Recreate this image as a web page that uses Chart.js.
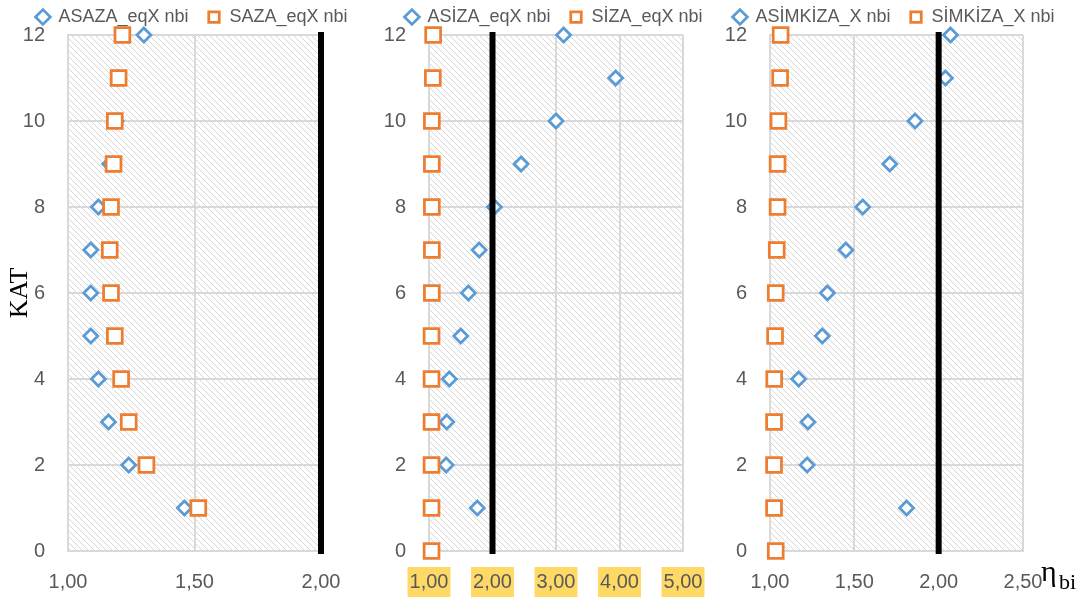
<!DOCTYPE html>
<html>
<head>
<meta charset="utf-8">
<script src="https://cdn.jsdelivr.net/npm/chart.js@4.4.1/dist/chart.umd.min.js"></script>
<style>
body{margin:0;background:#fff;width:1090px;height:611px;overflow:hidden;position:relative}
canvas{position:absolute;top:0}
</style>
</head>
<body>
<canvas id="c1" width="384" height="611" style="left:0px"></canvas>
<canvas id="c2" width="388" height="611" style="left:360px"></canvas>
<canvas id="c3" width="376" height="611" style="left:706px"></canvas>
<script>
// katlar (floors)
const katA = [1,2,3,4,5,6,7,8,9,10,11,12];
const katB = [0,1,2,3,4,5,6,7,8,9,10,11,12];

// panel 1
const asazaEqX = [1.46,1.24,1.16,1.12,1.09,1.09,1.09,1.12,1.165,1.19,1.20,1.30];
const sazaEqX  = [1.515,1.31,1.24,1.21,1.185,1.17,1.165,1.17,1.18,1.185,1.20,1.215];

// panel 2
const asizaEqX = [null,1.76,1.27,1.28,1.32,1.50,1.62,1.79,2.03,2.45,3.00,3.94,3.12];
const sizaEqX  = [1.04,1.04,1.04,1.04,1.04,1.04,1.045,1.045,1.045,1.045,1.045,1.06,1.065];

// panel 3
const asimkizaX = [null,1.81,1.22,1.225,1.17,1.31,1.34,1.45,1.55,1.71,1.86,2.04,2.07];
const simkizaX  = [1.034,1.024,1.024,1.024,1.025,1.03,1.034,1.04,1.045,1.045,1.05,1.06,1.063];

// limit line nbi = 2
const limitX = [2,2];
const limitY = [0,12];

const blue = '#5B9BD5';
const orange = '#ED7D31';
const tickColor = '#595959';

Chart.defaults.font.family = '"Liberation Sans", Arial, sans-serif';

function toPoints(xs, ys){
    let pts = [];
    for (let i = 0; i < xs.length; i++){
        if (xs[i] !== null) pts.push({x: xs[i], y: ys[i]});
    }
    return pts;
}

function hatch(){
    let c = document.createElement('canvas');
    c.width = 6; c.height = 6;
    let p = c.getContext('2d');
    p.fillStyle = '#ffffff';
    p.fillRect(0, 0, 6, 6);
    p.strokeStyle = '#d6d6d6';
    p.lineWidth = 1;
    p.beginPath();
    p.moveTo(0, 0); p.lineTo(6, 6);
    p.moveTo(-1, 5); p.lineTo(1, 7);
    p.moveTo(5, -1); p.lineTo(7, 1);
    p.stroke();
    return c;
}

const hatchPlugin = {
    id: 'hatch',
    beforeDraw(chart){
        const a = chart.chartArea;
        const ctx = chart.ctx;
        ctx.save();
        ctx.fillStyle = ctx.createPattern(hatch(), 'repeat');
        ctx.fillRect(a.left, a.top, a.right - a.left, a.bottom - a.top);
        ctx.restore();
    }
};

const etaPlugin = {
    id: 'eta',
    afterDraw(chart){
        if (chart.canvas.id !== 'c3') return;
        const ctx = chart.ctx;
        ctx.save();
        ctx.fillStyle = '#000';
        ctx.textBaseline = 'alphabetic';
        ctx.font = '30px "Liberation Serif", serif';
        ctx.fillText('η', 335, 581);
        ctx.font = '22px "Liberation Serif", serif';
        ctx.fillText('bi', 353, 589);
        ctx.restore();
    }
};

function fmt(v){
    return v.toFixed(2).replace('.', ',');
}

function makePanel(id, cfg){
    let xTicks = {
        color: tickColor,
        font: {size: 20},
        padding: 19,
        stepSize: cfg.step,
        autoSkip: false,
        maxRotation: 0,
        callback: fmt
    };
    if (cfg.yellow){
        xTicks.showLabelBackdrop = true;
        xTicks.backdropColor = '#FFD966';
        xTicks.backdropPadding = {top: 3, bottom: 3, left: 2, right: 2};
    }
    new Chart(document.getElementById(id), {
        type: 'scatter',
        data: {
            datasets: [{
                label: cfg.names[0],
                data: toPoints(cfg.a, cfg.kat),
                pointStyle: 'rectRot',
                pointRadius: 7,
                pointBorderWidth: 2.75,
                borderWidth: 2.75,
                borderColor: blue,
                backgroundColor: '#ffffff',
                order: 2,
                clip: false
            },{
                label: cfg.names[1],
                data: toPoints(cfg.b, katB.length === cfg.b.length ? katB : katA),
                pointStyle: 'rect',
                pointRadius: 10.5,
                pointBorderWidth: 2.75,
                borderWidth: 2.75,
                borderColor: orange,
                backgroundColor: '#ffffff',
                order: 1,
                clip: false
            },{
                type: 'line',
                label: 'limit',
                data: toPoints(limitX, limitY),
                borderColor: '#000000',
                borderWidth: 6,
                borderCapStyle: 'square',
                pointRadius: 0,
                order: 0,
                clip: false
            }]
        },
        options: {
            responsive: false,
            animation: false,
            events: [],
            layout: {padding: {top: -13, left: 0, right: 0, bottom: 0}},
            plugins: {
                tooltip: {enabled: false},
                legend: {
                    position: 'top',
                    maxHeight: 46,
                    labels: {
                        usePointStyle: true,
                        boxHeight: 10.5,
                        boxWidth: 13,
                        padding: 19,
                        color: tickColor,
                        font: {size: 18},
                        filter: item => item.datasetIndex < 2,
                        sort: (a, b) => a.datasetIndex - b.datasetIndex
                    }
                }
            },
            scales: {
                x: {
                    type: 'linear',
                    min: cfg.min,
                    max: cfg.max,
                    grid: {color: '#d9d9d9', lineWidth: 2, drawTicks: false},
                    border: {color: '#d9d9d9', width: 2},
                    ticks: xTicks,
                    afterFit: s => { s.height = 60; }
                },
                y: {
                    min: 0,
                    max: 12,
                    grid: {color: '#d9d9d9', lineWidth: 2, drawTicks: false},
                    border: {color: '#d9d9d9', width: 2},
                    ticks: {color: tickColor, font: {size: 20}, padding: 23, stepSize: 2},
                    title: {
                        display: cfg.kat === katA,
                        text: 'KAT',
                        color: '#000',
                        font: {family: '"Liberation Serif", serif', size: 26},
                        padding: {top: 5, bottom: 0}
                    },
                    afterFit: s => { s.width = cfg.left; }
                },
                // empty spacer on the right so the plot ends where the reference does
                spacer: {
                    type: 'linear',
                    position: 'right',
                    min: 0,
                    max: 12,
                    grid: {display: false},
                    border: {display: false},
                    ticks: {display: false},
                    afterFit: s => { s.width = cfg.right; }
                }
            }
        },
        plugins: [hatchPlugin, etaPlugin]
    });
}

makePanel('c1', {
    names: ['ASAZA_eqX nbi', 'SAZA_eqX nbi'],
    a: asazaEqX, b: sazaEqX, kat: katA,
    min: 1, max: 2, step: 0.5, left: 68, right: 63
});
makePanel('c2', {
    names: ['ASİZA_eqX nbi', 'SİZA_eqX nbi'],
    a: asizaEqX, b: sizaEqX, kat: katB,
    min: 1, max: 5, step: 1, left: 69, right: 65, yellow: true
});
makePanel('c3', {
    names: ['ASİMKİZA_X nbi', 'SİMKİZA_X nbi'],
    a: asimkizaX, b: simkizaX, kat: katB,
    min: 1, max: 2.5, step: 0.5, left: 64, right: 59
});
</script>
</body>
</html>
